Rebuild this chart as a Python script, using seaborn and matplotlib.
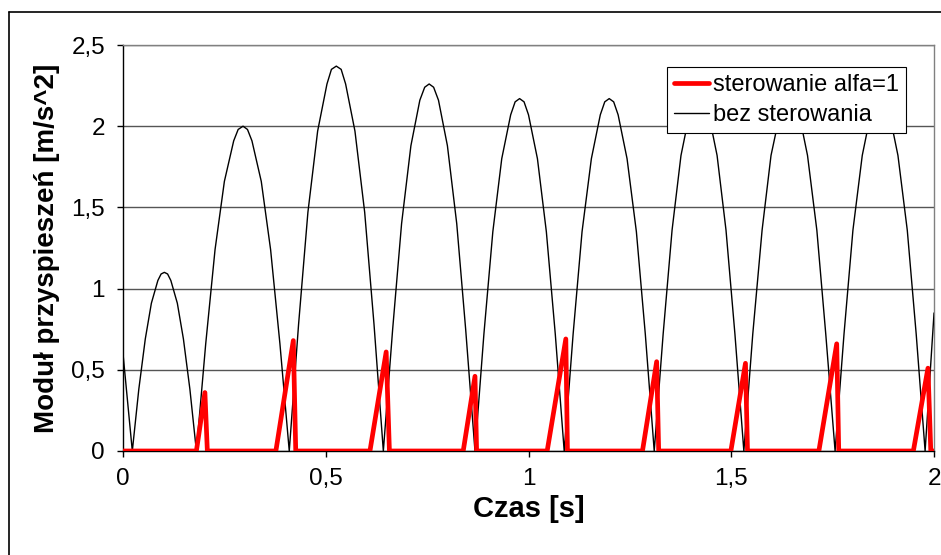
import pandas as pd
import seaborn as sns
import matplotlib.pyplot as plt
from matplotlib.lines import Line2D
from matplotlib.ticker import FuncFormatter

# czas [s] i moduł przyspieszeń bez sterowania (odczyt z wykresu)
t_bez = [0.000, 0.023,
         0.039, 0.055, 0.070, 0.086, 0.094, 0.102, 0.110, 0.118, 0.134, 0.149, 0.165, 0.181,
         0.204, 0.227, 0.250, 0.273, 0.284, 0.296, 0.307, 0.318, 0.341, 0.364, 0.387, 0.410,
         0.433, 0.456, 0.480, 0.503, 0.514, 0.526, 0.538, 0.549, 0.572, 0.596, 0.619, 0.642,
         0.665, 0.687, 0.710, 0.732, 0.744, 0.755, 0.766, 0.778, 0.800, 0.823, 0.845, 0.868,
         0.890, 0.912, 0.934, 0.956, 0.967, 0.978, 0.989, 1.000, 1.022, 1.044, 1.066, 1.088,
         1.110, 1.132, 1.155, 1.177, 1.188, 1.199, 1.210, 1.221, 1.243, 1.266, 1.288, 1.310,
         1.332, 1.354, 1.376, 1.398, 1.409, 1.420, 1.431, 1.443, 1.465, 1.487, 1.509, 1.531,
         1.553, 1.576, 1.598, 1.621, 1.632, 1.643, 1.655, 1.666, 1.688, 1.711, 1.733, 1.756,
         1.778, 1.800, 1.823, 1.845, 1.856, 1.867, 1.878, 1.889, 1.911, 1.934, 1.956, 1.978,
         2.000]
a_bez = [0.60, 0.00,
         0.38, 0.69, 0.91, 1.05, 1.09, 1.10, 1.09, 1.05, 0.91, 0.69, 0.38, 0.00,
         0.66, 1.24, 1.66, 1.91, 1.98, 2.00, 1.98, 1.91, 1.66, 1.24, 0.66, 0.00,
         0.78, 1.47, 1.97, 2.26, 2.35, 2.37, 2.35, 2.26, 1.97, 1.47, 0.78, 0.00,
         0.75, 1.40, 1.88, 2.16, 2.24, 2.26, 2.24, 2.16, 1.88, 1.40, 0.75, 0.00,
         0.72, 1.35, 1.80, 2.07, 2.15, 2.17, 2.15, 2.07, 1.80, 1.35, 0.72, 0.00,
         0.72, 1.35, 1.80, 2.07, 2.15, 2.17, 2.15, 2.07, 1.80, 1.35, 0.72, 0.00,
         0.72, 1.36, 1.82, 2.09, 2.17, 2.19, 2.17, 2.09, 1.82, 1.36, 0.72, 0.00,
         0.72, 1.36, 1.82, 2.09, 2.17, 2.19, 2.17, 2.09, 1.82, 1.36, 0.72, 0.00,
         0.72, 1.36, 1.82, 2.09, 2.17, 2.19, 2.17, 2.09, 1.82, 1.36, 0.72, 0.00,
         0.85]

# sterowanie alfa=1
t_ster = [0.000,
          0.181, 0.202, 0.208,
          0.377, 0.420, 0.426,
          0.609, 0.649, 0.657,
          0.839, 0.868, 0.872,
          1.046, 1.092, 1.096,
          1.281, 1.316, 1.321,
          1.499, 1.535, 1.540,
          1.716, 1.760, 1.765,
          1.949, 1.985, 1.992,
          2.000]
a_ster = [0.0,
          0.0, 0.36, 0.0,
          0.0, 0.68, 0.0,
          0.0, 0.61, 0.0,
          0.0, 0.46, 0.0,
          0.0, 0.69, 0.0,
          0.0, 0.55, 0.0,
          0.0, 0.54, 0.0,
          0.0, 0.66, 0.0,
          0.0, 0.51, 0.0,
          0.0]

x_ticks = [0, 0.5, 1, 1.5, 2]
y_ticks = [0, 0.5, 1, 1.5, 2, 2.5]

sns.set_style("white")
plt.rcParams['font.family'] = ['Liberation Sans', 'DejaVu Sans']
plt.rcParams['text.color'] = 'black'
plt.rcParams['axes.labelcolor'] = 'black'
plt.rcParams['xtick.color'] = 'black'
plt.rcParams['ytick.color'] = 'black'

fig = plt.figure(figsize=(9.41, 5.55), dpi=100)
ax = fig.add_axes([0.1307, 0.1874, 0.8619, 0.7315])

df_bez = pd.DataFrame({'t': t_bez, 'a': a_bez})
df_ster = pd.DataFrame({'t': t_ster, 'a': a_ster})

sns.lineplot(data=df_bez, x='t', y='a', ax=ax, color='black', linewidth=1.0,
             estimator=None, sort=False, zorder=3, label='bez sterowania')
sns.lineplot(data=df_ster, x='t', y='a', ax=ax, color='#ff0000', linewidth=3.4,
             estimator=None, sort=False, zorder=4, label='sterowanie alfa=1')

ax.set_xlim(0, 2)
ax.set_ylim(0, 2.5)
ax.set_xticks(x_ticks)
ax.set_yticks(y_ticks)
fmt = FuncFormatter(lambda v, p: ('%g' % v).replace('.', ','))
ax.xaxis.set_major_formatter(fmt)
ax.yaxis.set_major_formatter(fmt)
ax.tick_params(axis='both', labelsize=17.5, direction='out', length=4, width=1,
               color='black', labelcolor='black', bottom=True, left=True)
ax.tick_params(axis='y', pad=9)
ax.tick_params(axis='x', pad=8)
ax.grid(axis='y', color='#555555', linewidth=1)
ax.set_axisbelow(True)

for s in ['left', 'bottom']:
    ax.spines[s].set_color('black')
    ax.spines[s].set_linewidth(1)
for s in ['top', 'right']:
    ax.spines[s].set_visible(True)
    ax.spines[s].set_color('#808080')
    ax.spines[s].set_linewidth(1)

ax.set_xlabel('Czas [s]', fontsize=21, fontweight='bold', labelpad=4)
ax.set_ylabel('Moduł przyspieszeń [m/s^2]', fontsize=20, fontweight='bold', labelpad=8)

handles, labels = ax.get_legend_handles_labels()
leg = ax.legend(handles[::-1], labels[::-1], loc='upper right',
                bbox_to_anchor=(0.9655, 0.946), fontsize=17, frameon=True,
                fancybox=False, framealpha=1, edgecolor='black',
                handlelength=1.5, handletextpad=0.15, labelspacing=0.35,
                borderpad=0.3, borderaxespad=0)
leg.get_frame().set_linewidth(0.8)
leg.set_zorder(10)

# ramka wykresu
fig.add_artist(Line2D([0.0096, 0.0096], [0.0, 0.978], color='black', lw=1.2,
                      transform=fig.transFigure))
fig.add_artist(Line2D([0.0096, 1.0], [0.978, 0.978], color='black', lw=1.2,
                      transform=fig.transFigure))

plt.savefig('out.png', dpi=100)
